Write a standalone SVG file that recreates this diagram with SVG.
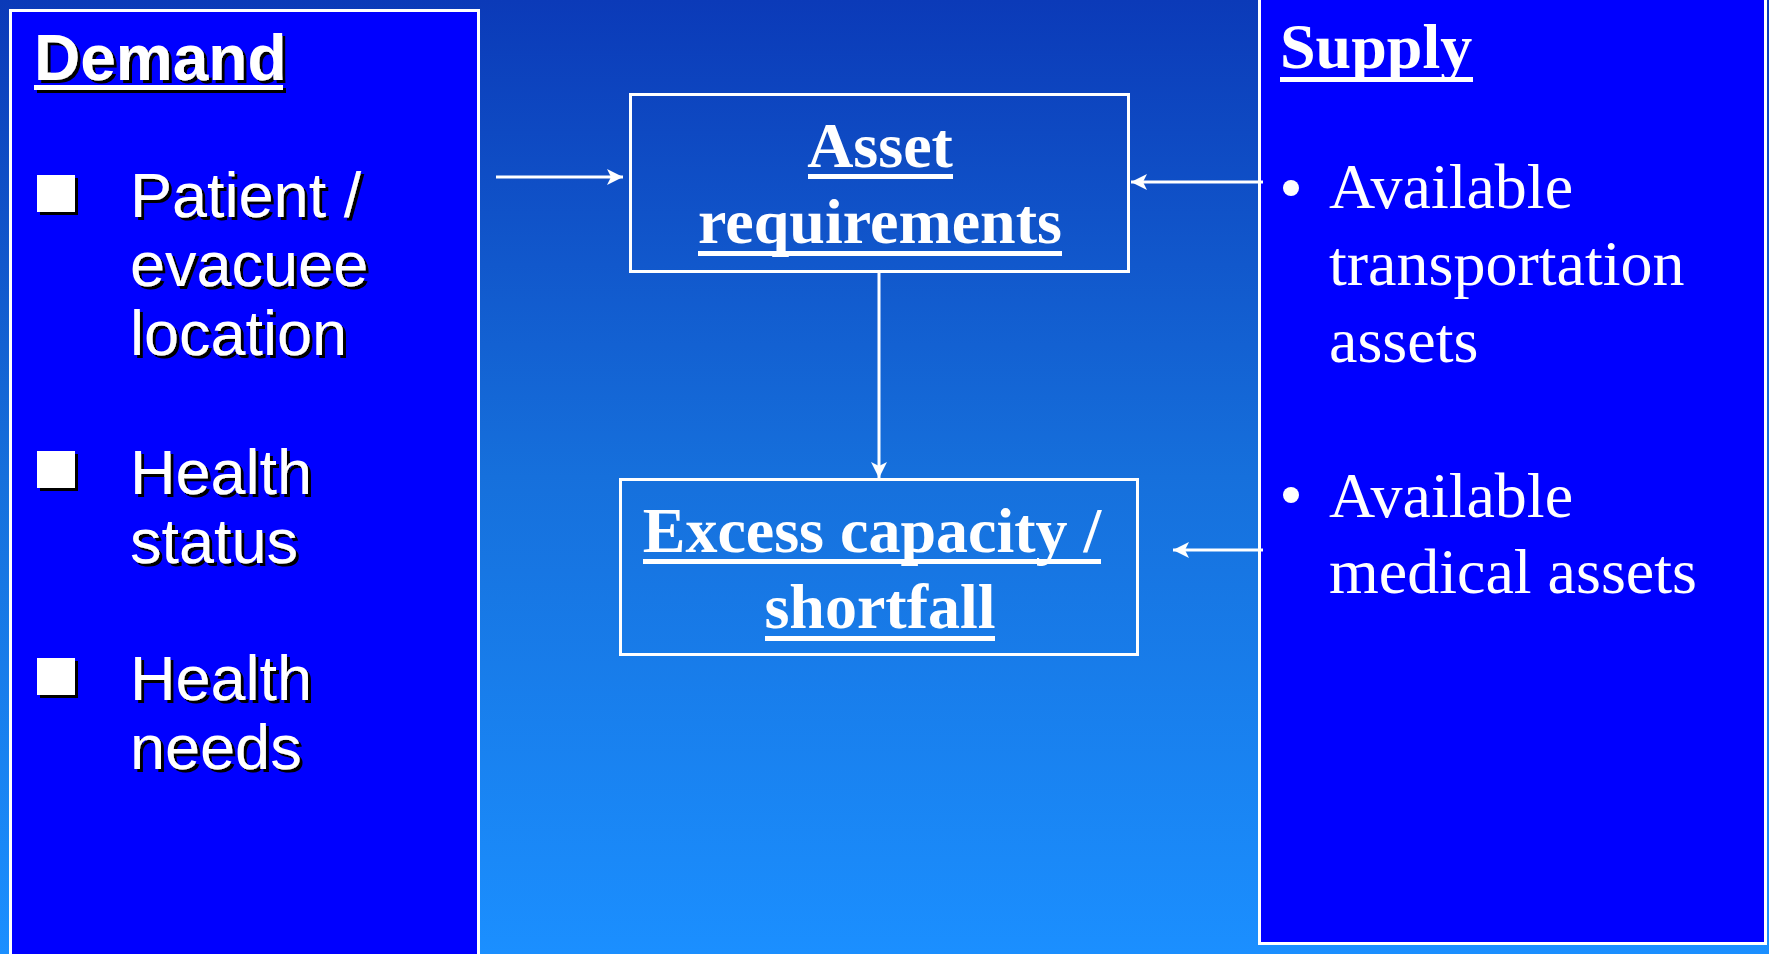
<svg xmlns="http://www.w3.org/2000/svg" width="1769" height="954" viewBox="0 0 1769 954">
<defs>
<linearGradient id="bg" x1="0" y1="0" x2="0" y2="1">
<stop offset="0" stop-color="#0B3AB8"/>
<stop offset="0.5" stop-color="#1670DC"/>
<stop offset="1" stop-color="#1B8FFF"/>
</linearGradient>
<filter id="sh" x="-10%" y="-10%" width="130%" height="130%">
<feDropShadow dx="3" dy="3" stdDeviation="0.4" flood-color="#000" flood-opacity="1"/>
</filter>
<marker id="ah" viewBox="0 0 16 16" refX="16" refY="8" markerWidth="16" markerHeight="16" markerUnits="userSpaceOnUse" orient="auto">
<path d="M0,0 L16,8 L0,16 L4,8 Z" fill="#fff"/>
</marker>
<style>
.panel{fill:#0000FF;stroke:#fff;stroke-width:3}
.box{fill:none;stroke:#fff;stroke-width:3}
.sans{font-family:"Liberation Sans",Arial,sans-serif;fill:#fff;font-size:63px}
.serif{font-family:"Liberation Serif","Times New Roman",serif;fill:#fff;font-size:64px}
.b{font-weight:bold}
.ul{fill:#fff}
.conn{stroke:#fff;stroke-width:3;fill:none}
</style>
</defs>
<rect x="0" y="0" width="1769" height="954" fill="url(#bg)"/>

<g id="demand">
<rect class="panel" x="10.5" y="10.5" width="468" height="980"/>
<g filter="url(#sh)">
<text class="sans b" x="34" y="80" style="font-size:64px">Demand</text>
<rect class="ul" x="34" y="85" width="249" height="5"/>
<rect x="37" y="175" width="38" height="37" fill="#fff"/>
<text class="sans" x="130" y="217">Patient /</text>
<text class="sans" x="130" y="286">evacuee</text>
<text class="sans" x="130" y="355">location</text>
<rect x="37" y="451" width="38" height="37" fill="#fff"/>
<text class="sans" x="130" y="494">Health</text>
<text class="sans" x="130" y="563">status</text>
<rect x="37" y="658" width="38" height="37" fill="#fff"/>
<text class="sans" x="130" y="700">Health</text>
<text class="sans" x="130" y="769">needs</text>
</g>
</g>

<g id="supply">
<rect class="panel" x="1259.5" y="-10" width="506" height="953.5"/>
<text class="serif b" x="1280" y="68">Supply</text>
<rect class="ul" x="1280" y="77" width="193" height="5"/>
<circle cx="1291" cy="188" r="8" fill="#fff"/>
<text class="serif" x="1329" y="208">Available</text>
<text class="serif" x="1329" y="285">transportation</text>
<text class="serif" x="1329" y="362">assets</text>
<circle cx="1291" cy="495" r="8" fill="#fff"/>
<text class="serif" x="1329" y="517">Available</text>
<text class="serif" x="1329" y="593">medical assets</text>
</g>

<g id="asset-requirements">
<rect class="box" x="630.5" y="94.5" width="498" height="177"/>
<text class="serif b" x="880" y="167" text-anchor="middle">Asset</text>
<rect class="ul" x="808" y="174" width="145" height="5"/>
<text class="serif b" x="880" y="243" text-anchor="middle">requirements</text>
<rect class="ul" x="698" y="251" width="364" height="5"/>
</g>

<g id="excess-capacity">
<rect class="box" x="620.5" y="479.5" width="517" height="175"/>
<text class="serif b" x="872" y="552" text-anchor="middle">Excess capacity /</text>
<rect class="ul" x="643" y="559" width="458" height="5"/>
<text class="serif b" x="880" y="628" text-anchor="middle">shortfall</text>
<rect class="ul" x="765" y="636" width="230" height="5"/>
</g>

<g id="connectors">
<line class="conn" x1="496" y1="177" x2="623" y2="177" marker-end="url(#ah)"/>
<line class="conn" x1="1263" y1="182" x2="1131" y2="182" marker-end="url(#ah)"/>
<line class="conn" x1="879" y1="272" x2="879" y2="478" marker-end="url(#ah)"/>
<line class="conn" x1="1263" y1="550" x2="1173" y2="550" marker-end="url(#ah)"/>
</g>
</svg>
